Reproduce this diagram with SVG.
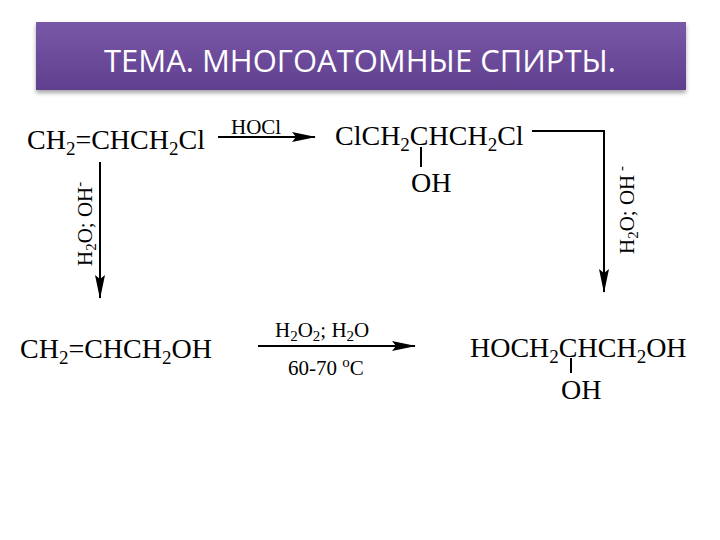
<svg xmlns="http://www.w3.org/2000/svg" width="720" height="540" viewBox="0 0 720 540">
<defs>
<linearGradient id="g" x1="0" y1="0" x2="0" y2="1"><stop offset="0" stop-color="#7a58a8"/><stop offset="1" stop-color="#5f3f8e"/></linearGradient>
<filter id="sh" x="-5%" y="-20%" width="110%" height="150%"><feDropShadow dx="0" dy="3" stdDeviation="2" flood-color="#000" flood-opacity="0.35"/></filter>
<marker id="ah2" markerWidth="24" markerHeight="10" refX="23" refY="5" orient="auto" markerUnits="userSpaceOnUse"><path d="M0,0 L24,5 L0,10 L4,5 Z" fill="#000"/></marker>
</defs>
<style>
.f{font-family:"Liberation Serif","Times New Roman",serif;fill:#000}
.b{font-size:28px}.s{font-size:21px}
.ln{stroke:#000;stroke-width:2;fill:none}
</style>
<rect width="720" height="540" fill="#fff"/>
<g id="title">
<rect x="36" y="22" width="650" height="68" fill="url(#g)" filter="url(#sh)"/>
<text x="360" y="72" text-anchor="middle" font-family="'Open Sans','DejaVu Sans',sans-serif" font-size="31" fill="#fff">ТЕМА. МНОГОАТОМНЫЕ СПИРТЫ.</text>
</g>
<g id="n1"><text class="f b" x="27" y="149">CH<tspan font-size="19" dy="6">2</tspan><tspan dy="-6">=CHCH</tspan><tspan font-size="19" dy="6">2</tspan><tspan dy="-6">Cl</tspan></text></g>
<g id="n2"><text class="f b" x="335" y="145">ClCH<tspan font-size="19" dy="6">2</tspan><tspan dy="-6">CHCH</tspan><tspan font-size="19" dy="6">2</tspan><tspan dy="-6">Cl</tspan></text>
<line class="ln" x1="421" y1="147" x2="421" y2="167"/>
<text class="f b" x="411" y="192">OH</text></g>
<g id="n3"><text class="f b" x="20" y="358">CH<tspan font-size="19" dy="6">2</tspan><tspan dy="-6">=CHCH</tspan><tspan font-size="19" dy="6">2</tspan><tspan dy="-6">OH</tspan></text></g>
<g id="n4"><text class="f b" x="470" y="357">HOCH<tspan font-size="19" dy="6">2</tspan><tspan dy="-6">CHCH</tspan><tspan font-size="19" dy="6">2</tspan><tspan dy="-6">OH</tspan></text>
<line class="ln" x1="571" y1="358" x2="571" y2="373"/>
<text class="f b" x="561" y="399">OH</text></g>
<g id="connectors">
<line class="ln" x1="218" y1="137" x2="315" y2="137" marker-end="url(#ah2)"/>
<text class="f s" x="231" y="134">HOCl</text>
<line class="ln" x1="100" y1="162" x2="100" y2="298" marker-end="url(#ah2)"/>
<text class="f s" transform="translate(92,266) rotate(-90)">H<tspan font-size="15" dy="4">2</tspan><tspan dy="-4">O; OH</tspan><tspan font-size="15" dy="-8">-</tspan></text>
<polyline class="ln" points="532,131 604,131 604,292" marker-end="url(#ah2)"/>
<text class="f s" transform="translate(634,254) rotate(-90)">H<tspan font-size="15" dy="4">2</tspan><tspan dy="-4">O; OH</tspan><tspan font-size="15" dy="-8"> -</tspan></text>
<line class="ln" x1="258" y1="346" x2="415" y2="346" marker-end="url(#ah2)"/>
<text class="f s" x="275" y="337">H<tspan font-size="15" dy="4">2</tspan><tspan dy="-4">O</tspan><tspan font-size="15" dy="4">2</tspan><tspan dy="-4">; H</tspan><tspan font-size="15" dy="4">2</tspan><tspan dy="-4">O</tspan></text>
<text class="f s" x="288" y="375">60-70 <tspan font-size="15" dy="-8">o</tspan><tspan dy="8">C</tspan></text>
</g>
</svg>
